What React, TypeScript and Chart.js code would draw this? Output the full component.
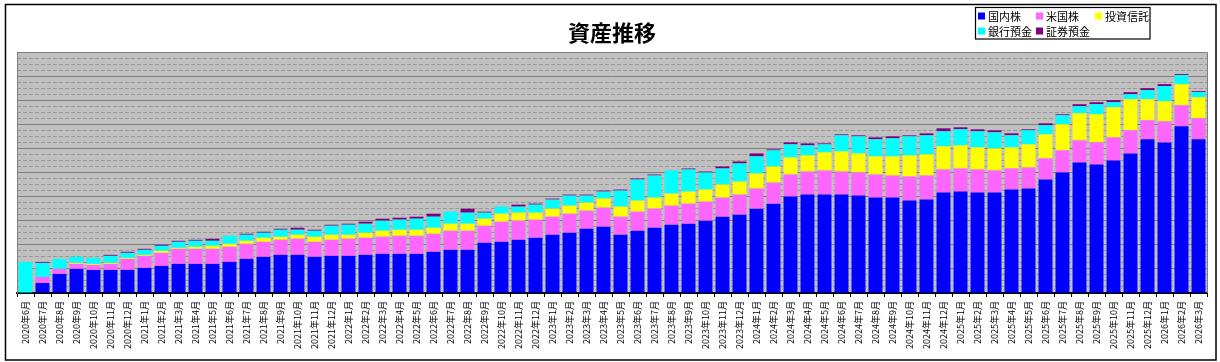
import { useEffect, useRef } from 'react';
import { Chart, registerables } from 'chart.js';

Chart.register(...registerables);

const TITLE = '資産推移';
const FONT = '"Noto Sans CJK JP", "Noto Sans", sans-serif';

const categories = [
  '2020年6月', '2020年7月', '2020年8月', '2020年9月', '2020年10月', '2020年11月', '2020年12月',
  '2021年1月', '2021年2月', '2021年3月', '2021年4月', '2021年5月', '2021年6月', '2021年7月', '2021年8月', '2021年9月', '2021年10月', '2021年11月', '2021年12月',
  '2022年1月', '2022年2月', '2022年3月', '2022年4月', '2022年5月', '2022年6月', '2022年7月', '2022年8月', '2022年9月', '2022年10月', '2022年11月', '2022年12月',
  '2023年1月', '2023年2月', '2023年3月', '2023年4月', '2023年5月', '2023年6月', '2023年7月', '2023年8月', '2023年9月', '2023年10月', '2023年11月', '2023年12月',
  '2024年1月', '2024年2月', '2024年3月', '2024年4月', '2024年5月', '2024年6月', '2024年7月', '2024年8月', '2024年9月', '2024年10月', '2024年11月', '2024年12月',
  '2025年1月', '2025年2月', '2025年3月', '2025年4月', '2025年5月', '2025年6月', '2025年7月', '2025年8月', '2025年9月', '2025年10月', '2025年11月', '2025年12月',
  '2026年1月', '2026年2月', '2026年3月',
];

const domesticStocks = [
  0, 100, 190, 240, 230, 230, 230, 250, 270, 290,
  290, 290, 310, 340, 360, 380, 380, 360, 370, 370,
  380, 390, 390, 390, 410, 430, 430, 500, 510, 530,
  550, 580, 600, 640, 660, 580, 620, 650, 680, 690,
  720, 760, 780, 840, 890, 960, 980, 980, 980, 970,
  950, 950, 920, 930, 1000, 1010, 1000, 1000, 1030, 1040,
  1130, 1200, 1300, 1280, 1320, 1390, 1530, 1500, 1660, 1530,
];

const usStocks = [
  0, 60, 50, 50, 50, 60, 110, 120, 130, 150,
  150, 150, 150, 150, 150, 150, 160, 150, 160, 170,
  170, 170, 180, 180, 180, 190, 190, 170, 200, 190,
  180, 180, 190, 180, 190, 180, 190, 190, 190, 200,
  190, 190, 200, 200, 210, 220, 230, 240, 230, 230,
  230, 220, 240, 240, 230, 230, 230, 220, 210, 210,
  210, 220, 220, 220, 230, 230, 190, 210, 210, 210,
];

const investmentTrusts = [
  0, 0, 0, 10, 10, 10, 10, 10, 20, 10,
  20, 30, 30, 30, 40, 30, 40, 50, 50, 40,
  50, 60, 60, 60, 60, 70, 70, 70, 80, 80,
  70, 80, 80, 80, 90, 100, 110, 110, 120, 120,
  120, 130, 130, 150, 160, 170, 160, 180, 200, 190,
  180, 190, 210, 210, 230, 230, 220, 220, 210, 230,
  240, 260, 270, 280, 300, 310, 210, 200, 210, 210,
];

const bankDeposits = [
  310, 140, 100, 60, 60, 70, 50, 50, 50, 60,
  60, 50, 80, 60, 50, 70, 50, 60, 90, 100,
  90, 100, 100, 110, 110, 120, 110, 60, 70, 60,
  80, 90, 100, 70, 70, 160, 210, 220, 230, 220,
  170, 160, 180, 170, 160, 130, 100, 80, 160, 170,
  170, 180, 190, 190, 150, 160, 160, 160, 120, 140,
  90, 90, 70, 100, 50, 50, 90, 150, 90, 50,
];

const securitiesDeposits = [
  0, 10, 0, 0, 0, 10, 10, 10, 10, 10,
  10, 20, 0, 10, 10, 10, 20, 10, 10, 10,
  20, 20, 20, 20, 30, 0, 40, 10, 0, 20,
  10, 10, 10, 10, 10, 10, 10, 10, 0, 10,
  10, 20, 20, 30, 10, 20, 20, 10, 10, 10,
  20, 20, 10, 20, 30, 20, 20, 20, 20, 10,
  20, 10, 20, 20, 20, 20, 20, 20, 10, 10,
];

const seriesLabels = ['国内株', '米国株', '投資信託', '銀行預金', '証券預金'];
const seriesColors = ['#0000FF', '#FF66FF', '#FFFF00', '#00FFFF', '#800080'];

const Y_MAX = 2400;
const Y_MAJOR = 240;
const Y_MINOR = 60;

const framePlugin = {
  id: 'framePlugin',
  beforeDraw(chart: any) {
    const { ctx, chartArea: a, width, height } = chart;
    ctx.save();
    ctx.fillStyle = '#ffffff';
    ctx.fillRect(0, 0, width, height);
    ctx.fillStyle = '#C0C0C0';
    ctx.fillRect(a.left, a.top, a.right - a.left, a.bottom - a.top);
    ctx.restore();
  },
  afterDraw(chart: any) {
    const { ctx, chartArea: a } = chart;
    ctx.save();
    // plot frame (top / right)
    ctx.strokeStyle = '#808080';
    ctx.lineWidth = 1;
    ctx.beginPath();
    ctx.moveTo(a.left, a.top + 0.5);
    ctx.lineTo(a.right + 0.5, a.top + 0.5);
    ctx.lineTo(a.right + 0.5, a.bottom);
    ctx.stroke();

    // outer border
    ctx.strokeStyle = '#000000';
    ctx.lineWidth = 1.5;
    ctx.strokeRect(5.5, 4.5, 1210.5, 355.5);

    // title
    ctx.fillStyle = '#000000';
    ctx.font = `bold 22px ${FONT}`;
    ctx.textAlign = 'center';
    ctx.textBaseline = 'middle';
    ctx.fillText(TITLE, (a.left + a.right) / 2, 33);

    // legend
    ctx.lineWidth = 1.2;
    ctx.strokeRect(975.5, 7.5, 174.5, 31.5);
    const pos = [
      [978, 16], [1036, 16], [1095, 16],
      [978, 31], [1036, 31],
    ];
    ctx.font = `11px ${FONT}`;
    ctx.textAlign = 'left';
    chart.data.datasets.forEach((ds: any, i: number) => {
      const [x, y] = pos[i];
      ctx.fillStyle = ds.backgroundColor;
      ctx.fillRect(x, y - 3.5, 7, 7);
      ctx.fillStyle = '#000000';
      ctx.fillText(ds.label, x + 10, y + 0.5);
    });
    ctx.restore();
  },
};

export default function App() {
  const canvasRef = useRef<HTMLCanvasElement | null>(null);

  useEffect(() => {
    if (!canvasRef.current) return;
    Chart.defaults.font.family = FONT;
    const seriesData = [domesticStocks, usStocks, investmentTrusts, bankDeposits, securitiesDeposits];
    const chart = new Chart(canvasRef.current, {
      type: 'bar',
      data: {
        labels: categories,
        datasets: seriesLabels.map((label, i) => ({
          label,
          data: seriesData[i],
          backgroundColor: seriesColors[i],
          borderWidth: 0,
          categoryPercentage: 1,
          barPercentage: 0.82,
        })),
      },
      options: {
        responsive: false,
        animation: false,
        layout: { padding: { top: 52, left: 17, right: 13, bottom: 2 } },
        plugins: {
          legend: { display: false },
          title: { display: false },
          tooltip: { enabled: false },
        },
        scales: {
          x: {
            stacked: true,
            grid: { offset: true, drawOnChartArea: false, color: '#000000', tickLength: 4 },
            border: { color: '#000000', width: 2 },
            ticks: {
              autoSkip: false,
              maxRotation: 90,
              minRotation: 90,
              padding: 4,
              color: '#000000',
              font: { size: 9, family: FONT },
            },
            afterFit(scale: any) { scale.height = 67; },
          },
          y: {
            stacked: true,
            min: 0,
            max: Y_MAX,
            ticks: { display: false, stepSize: Y_MAJOR },
            grid: { color: '#808080', drawTicks: false, lineWidth: 1 },
            border: { display: true, color: '#808080' },
            afterFit(scale: any) { scale.width = 0; },
          },
          yMinor: {
            position: 'left',
            min: 0,
            max: Y_MAX,
            ticks: { display: false, stepSize: Y_MINOR },
            grid: {
              drawTicks: false,
              lineWidth: 1,
              color: (c: any) => (c.index % 4 === 0 ? 'rgba(0,0,0,0)' : '#999999'),
            },
            border: { display: false, dash: [4, 2] },
            afterFit(scale: any) { scale.width = 0; },
          },
        },
      },
      plugins: [framePlugin],
    } as any);
    return () => chart.destroy();
  }, []);

  return (
    <div style={{ position: 'absolute', left: 0, top: 0, width: 1220, height: 362 }}>
      <canvas ref={canvasRef} width={1220} height={362} />
    </div>
  );
}
